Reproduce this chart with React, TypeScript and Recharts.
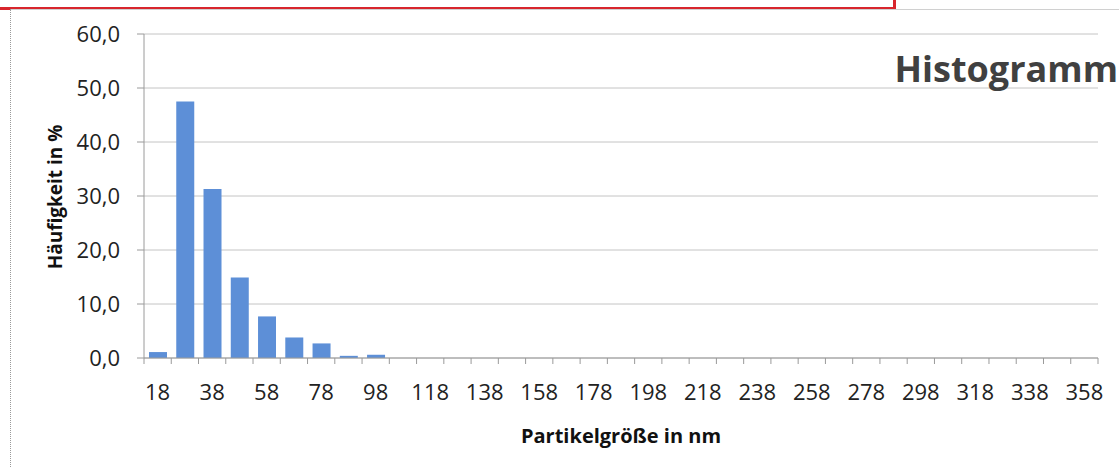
import { BarChart, Bar, XAxis, YAxis, CartesianGrid } from "recharts";

// Partikelgröße (nm), Klassenmitten
const sizes = [
  18, 28, 38, 48, 58, 68, 78, 88, 98, 108, 118, 128, 138, 148, 158, 168, 178,
  188, 198, 208, 218, 228, 238, 248, 258, 268, 278, 288, 298, 308, 318, 328,
  338, 348, 358,
];

// Häufigkeit in %
const freq = [
  1.1, 47.5, 31.3, 14.9, 7.7, 3.8, 2.7, 0.4, 0.6, 0, 0, 0, 0, 0, 0, 0, 0, 0, 0,
  0, 0, 0, 0, 0, 0, 0, 0, 0, 0, 0, 0, 0, 0, 0, 0,
];

const yTicks = [0, 10, 20, 30, 40, 50, 60];

const W = 1119;
const H = 468;
const PLOT_LEFT = 144;
const PLOT_RIGHT = 1098;
const PLOT_TOP = 34;
const AXIS_Y = 358;
const BAND = (PLOT_RIGHT - PLOT_LEFT) / sizes.length;
const FONT = "'Open Sans', sans-serif";

const data = sizes.map((s, i) => ({ size: String(s), value: freq[i] }));

function XTick(props: any) {
  const { x, payload, index } = props;
  const last = index === sizes.length - 1;
  return (
    <g>
      <line x1={x - BAND / 2} x2={x - BAND / 2} y1={AXIS_Y} y2={AXIS_Y + 6} stroke="#9a9a9a" />
      {last && (
        <line x1={x + BAND / 2} x2={x + BAND / 2} y1={AXIS_Y} y2={AXIS_Y + 6} stroke="#9a9a9a" />
      )}
      {index % 2 === 0 && (
        <text x={x} y={400} textAnchor="middle" fontSize={22} fontFamily={FONT} fill="#222">
          {payload.value}
        </text>
      )}
    </g>
  );
}

export default function App() {
  return (
    <div style={{ position: "absolute", left: 0, top: 0, width: W, height: H, background: "#fff", overflow: "hidden" }}>
      <div style={{ position: "absolute", left: -3, top: -20, width: 893, height: 24, border: "3px solid #d8262d" }} />
      <div style={{ position: "absolute", left: 10, top: 9, width: W - 10, borderTop: "1px solid #d0d0d0" }} />
      <div style={{ position: "absolute", left: 10, top: 9, height: H, borderLeft: "1px dotted #9a9a9a" }} />
      <div style={{ position: "absolute", left: 0, top: 0 }}>
        <BarChart
          width={W}
          height={H}
          data={data}
          margin={{ top: PLOT_TOP, right: W - PLOT_RIGHT, bottom: 0, left: 0 }}
        >
          <CartesianGrid vertical={false} stroke="#c4c4c4" />
          <XAxis
            dataKey="size"
            interval={0}
            height={H - AXIS_Y}
            tickLine={false}
            axisLine={{ stroke: "#9a9a9a" }}
            tick={<XTick />}
          />
          <YAxis
            width={PLOT_LEFT}
            domain={[0, 60]}
            ticks={yTicks}
            tickSize={7}
            tickMargin={17}
            axisLine={{ stroke: "#9a9a9a" }}
            tickLine={{ stroke: "#9a9a9a" }}
            tickFormatter={(v: number) => v.toFixed(1).replace(".", ",")}
            tick={{ fontSize: 22, fontFamily: FONT, fill: "#222" }}
          />
          <Bar dataKey="value" fill="#5d8fd7" barSize={18} isAnimationActive={false} />
          <text
            x={62}
            y={197}
            transform="rotate(-90 62 197)"
            textAnchor="middle"
            fontSize={19}
            fontWeight="bold"
            fontFamily={FONT}
            fill="#111"
          >
            Häufigkeit in %
          </text>
          <text x={621} y={443} textAnchor="middle" fontSize={20} fontWeight="bold" fontFamily={FONT} fill="#111">
            Partikelgröße in nm
          </text>
          <text x={1118} y={82} textAnchor="end" fontSize={36} fontWeight="bold" fontFamily={FONT} fill="#404040">
            Histogramm
          </text>
        </BarChart>
      </div>
    </div>
  );
}
